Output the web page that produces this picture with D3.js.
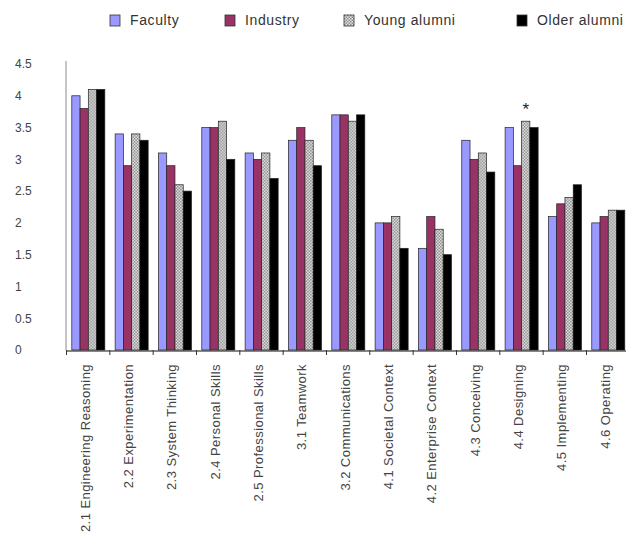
<!DOCTYPE html>
<html>
<head>
<meta charset="utf-8">
<script src="https://cdn.jsdelivr.net/npm/d3@7"></script>
<style>
  html, body { margin: 0; padding: 0; background: #fff; }
  svg { display: block; font-family: "Liberation Sans", Arial, sans-serif; }
</style>
</head>
<body>
<svg id="chart" width="626" height="539"></svg>
<script>
// CDIO skill areas and mean ratings by respondent group
const categories = [
  "2.1 Engineering Reasoning", "2.2 Experimentation", "2.3 System Thinking",
  "2.4 Personal Skills", "2.5 Professional Skills", "3.1 Teamwork",
  "3.2 Communications", "4.1 Societal Context", "4.2 Enterprise Context",
  "4.3 Conceiving", "4.4 Designing", "4.5 Implementing", "4.6 Operating"
];
const seriesNames = ["Faculty", "Industry", "Young alumni", "Older alumni"];
const faculty     = [4.0, 3.4, 3.1, 3.5, 3.1, 3.3, 3.7, 2.0, 1.6, 3.3, 3.5, 2.1, 2.0];
const industry    = [3.8, 2.9, 2.9, 3.5, 3.0, 3.5, 3.7, 2.0, 2.1, 3.0, 2.9, 2.3, 2.1];
const youngAlumni = [4.1, 3.4, 2.6, 3.6, 3.1, 3.3, 3.6, 2.1, 1.9, 3.1, 3.6, 2.4, 2.2];
const olderAlumni = [4.1, 3.3, 2.5, 3.0, 2.7, 2.9, 3.7, 1.6, 1.5, 2.8, 3.5, 2.6, 2.2];
const yTicks = [0, 0.5, 1, 1.5, 2, 2.5, 3, 3.5, 4, 4.5];
const yTickLabels = ["0", "0.5", "1", "1.5", "2", "2.5", "3", "3.5", "4", "4.5"];
// significance marker: category and series it sits above
const markedCategory = "4.4 Designing";
const markedSeries = "Young alumni";

const seriesValues = [faculty, industry, youngAlumni, olderAlumni];
const rows = categories.map((c, i) => ({
  category: c,
  values: seriesNames.map((s, k) => ({ series: s, value: seriesValues[k][i] }))
}));

const svg = d3.select("#chart");

// checkered fill for the young alumni series
const defs = svg.append("defs");
const pat = defs.append("pattern")
  .attr("id", "checker").attr("patternUnits", "userSpaceOnUse")
  .attr("width", 3).attr("height", 3);
pat.append("rect").attr("width", 3).attr("height", 3).attr("fill", "#e6e6e6");
pat.append("rect").attr("width", 1.5).attr("height", 1.5).attr("fill", "#8a8a8a");
pat.append("rect").attr("x", 1.5).attr("y", 1.5).attr("width", 1.5).attr("height", 1.5).attr("fill", "#8a8a8a");

const fills = {
  "Faculty": "#9999ff",
  "Industry": "#993366",
  "Young alumni": "url(#checker)",
  "Older alumni": "#000000"
};

const x0 = d3.scaleBand().domain(categories).range([66.5, 66.5 + 13 * 43.33]).paddingInner(0).paddingOuter(0);
const x1 = d3.scaleBand().domain(seriesNames).range([5.3, x0.bandwidth() - 5]).padding(0);
const y = d3.scaleLinear().domain([0, 4.5]).range([350, 64]);

// y axis line and labels
svg.append("line")
  .attr("x1", 66).attr("x2", 66)
  .attr("y1", y(4.5) - 3).attr("y2", y(0))
  .attr("stroke", "#8c8c8c").attr("stroke-width", 1);

svg.append("g").selectAll("text")
  .data(yTicks)
  .join("text")
  .attr("x", 15)
  .attr("y", d => y(d))
  .attr("dy", "0.36em")
  .attr("font-size", 12)
  .attr("fill", "#444")
  .text((d, i) => yTickLabels[i]);

// bars
const groups = svg.append("g").selectAll("g")
  .data(rows)
  .join("g")
  .attr("transform", d => `translate(${x0(d.category)},0)`);

groups.selectAll("rect")
  .data(d => d.values)
  .join("rect")
  .attr("x", d => x1(d.series))
  .attr("y", d => y(d.value))
  .attr("width", x1.bandwidth())
  .attr("height", d => y(0) - y(d.value))
  .attr("fill", d => fills[d.series])
  .attr("stroke", "#222")
  .attr("stroke-width", 0.7);

// x axis with ticks between categories
const xAxis = d3.axisBottom(x0).tickSize(0).tickFormat("");
const gx = svg.append("g").attr("transform", `translate(0,${y(0) + 0.5})`).call(xAxis);
gx.select(".domain").attr("stroke", "#111").attr("stroke-width", 1.2);
svg.append("g").selectAll("line")
  .data(categories.map((c) => x0(c)).concat([x0.range()[1]]))
  .join("line")
  .attr("x1", d => d).attr("x2", d => d)
  .attr("y1", y(0)).attr("y2", y(0) + 5)
  .attr("stroke", "#333").attr("stroke-width", 1);

// rotated category labels
svg.append("g").selectAll("text")
  .data(categories)
  .join("text")
  .attr("transform", d => `translate(${x0(d) + x0.bandwidth() / 2 + 1.5},364) rotate(-90)`)
  .attr("text-anchor", "end")
  .attr("font-size", 13)
  .attr("letter-spacing", 0.45)
  .attr("fill", "#444")
  .text(d => d);

// significance asterisk
const markedRow = rows.find(r => r.category === markedCategory);
const markedVal = markedRow.values.find(v => v.series === markedSeries).value;
svg.append("text")
  .attr("x", x0(markedCategory) + x1(markedSeries) + x1.bandwidth() / 2)
  .attr("y", y(markedVal) - 6)
  .attr("text-anchor", "middle")
  .attr("font-size", 17)
  .attr("fill", "#222")
  .text("*");

// legend
const legendX = [110, 225, 344, 517];
const legend = svg.append("g").selectAll("g")
  .data(seriesNames)
  .join("g")
  .attr("transform", (d, i) => `translate(${legendX[i]},0)`);
legend.append("rect")
  .attr("x", 0).attr("y", 15)
  .attr("width", 10).attr("height", 11)
  .attr("fill", d => fills[d])
  .attr("stroke", "#333").attr("stroke-width", 0.8);
legend.append("text")
  .attr("x", 20).attr("y", 25)
  .attr("font-size", 14)
  .attr("letter-spacing", 0.6)
  .attr("fill", "#333")
  .text(d => d);
</script>
</body>
</html>
